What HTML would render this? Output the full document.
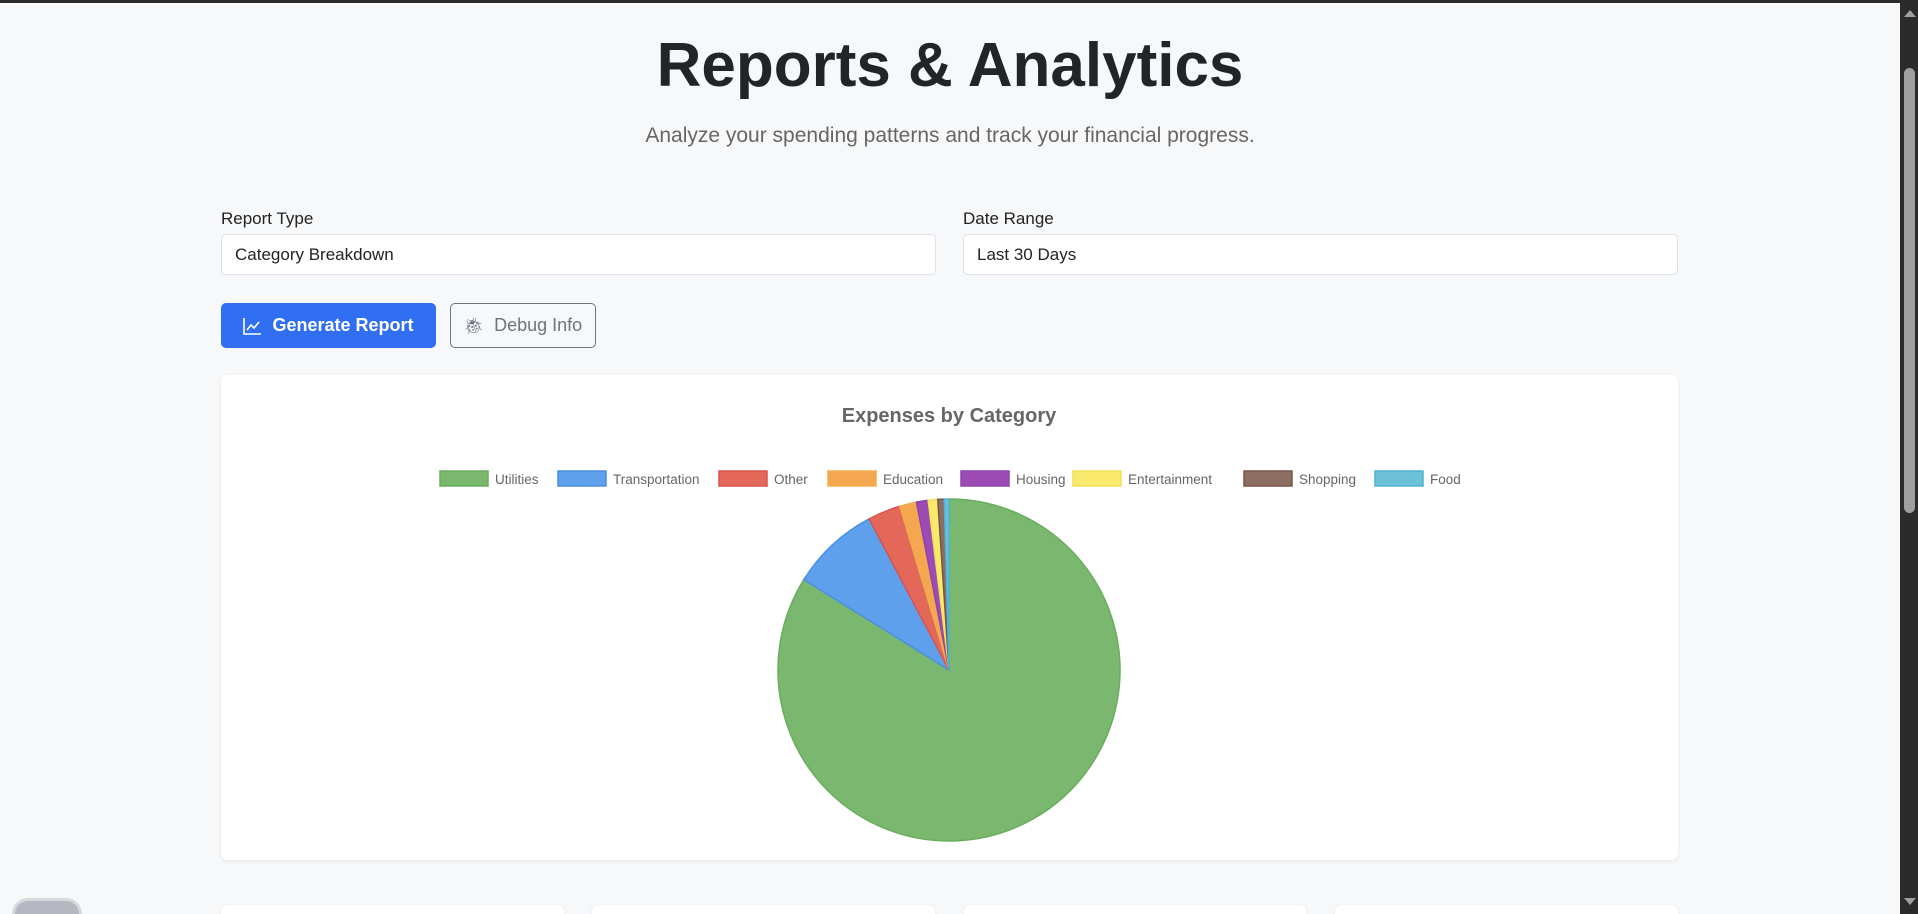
<!DOCTYPE html>
<html><head><meta charset="utf-8"><style>
*{box-sizing:border-box;margin:0;padding:0}
html,body{width:1918px;height:914px;overflow:hidden}
body{background:#f7f8fa;font-family:"Liberation Sans",sans-serif;position:relative;color:#212529}
.topbar{position:absolute;left:0;top:0;width:1918px;height:3px;background:#2b2b2b}
.sb{position:absolute;right:0;top:0;width:18px;height:914px;background:#2b2b2b}
.thumb{position:absolute;left:4px;top:68px;width:11px;height:445px;border-radius:6px;background:#9f9f9f}
h1{position:absolute;left:0;width:1900px;text-align:center;top:30px;font-size:62px;font-weight:bold;color:#212529}
.sub{position:absolute;left:0;width:1900px;text-align:center;top:124px;font-size:21px;color:#666;font-weight:300}
.lbl{position:absolute;top:209px;font-size:17px;color:#222}
.sel{position:absolute;top:234px;height:41px;width:715px;background:#fff;border:1px solid #dee2e6;border-radius:5px;font-size:17px;padding:10px 13px;color:#222}
.btn{position:absolute;top:303px;height:45px;border-radius:5px;font-size:18px;display:flex;align-items:center;justify-content:center;gap:10px}
.card{position:absolute;background:#fff;border-radius:7px;box-shadow:0 1px 4px rgba(0,0,0,.08)}
</style></head><body>
<div class="topbar"></div>
<h1>Reports &amp; Analytics</h1>
<div class="sub">Analyze your spending patterns and track your financial progress.</div>
<div class="lbl" style="left:221px">Report Type</div>
<div class="sel" style="left:221px">Category Breakdown</div>
<div class="lbl" style="left:963px">Date Range</div>
<div class="sel" style="left:963px">Last 30 Days</div>
<div class="btn" style="left:221px;width:215px;background:#316ff2;color:#fff;font-weight:bold"><svg width="19" height="18" viewBox="0 0 19 18"><path d="M1 1V17H18" stroke="#fff" stroke-width="1.6" fill="none"/><path d="M4 13L8 8L11 11L16 5" stroke="#fff" stroke-width="1.6" fill="none"/></svg>Generate Report</div>
<div class="btn" style="left:450px;width:146px;border:1px solid #6c757d;color:#6c757d;background:transparent"><span style="font-size:16px">🐞︎</span>Debug Info</div>
<div class="card" style="left:221px;top:375px;width:1457px;height:485px">
<svg id="chart" width="1457" height="485"></svg>
</div>
<div class="card" style="left:221px;top:905px;width:343px;height:9px;border-radius:7px 7px 0 0"></div>
<div class="card" style="left:592px;top:905px;width:343px;height:9px;border-radius:7px 7px 0 0"></div>
<div class="card" style="left:964px;top:905px;width:342px;height:9px;border-radius:7px 7px 0 0"></div>
<div class="card" style="left:1335px;top:905px;width:343px;height:9px;border-radius:7px 7px 0 0"></div>
<div style="position:absolute;left:12px;top:898px;width:70px;height:16px;border-radius:20px 20px 0 0;background:#b5b8c0;border:3px solid #d6d8dc;border-bottom:none"></div>
<div class="sb"><div style="position:absolute;left:4px;top:10px;width:0;height:0;border-left:6px solid transparent;border-right:6px solid transparent;border-bottom:7px solid #9f9f9f"></div><div class="thumb"></div><div style="position:absolute;left:4px;top:898px;width:0;height:0;border-left:6px solid transparent;border-right:6px solid transparent;border-top:7px solid #9f9f9f"></div></div>
<script>
const categories=["Utilities","Transportation","Other","Education","Housing","Entertainment","Shopping","Food"];
const values=[83.9,8.4,3.1,1.6,1.1,0.9,0.6,0.45];
const fills=["#7bb86f","#5fa0ec","#e4685a","#f4a74e","#9b4bb3","#f9ea6e","#8d6e63","#6cc0d8"];
const strokes=["#6aad5e","#4a90e2","#d9534f","#f0ad4e","#8e44ad","#f1e05a","#795548","#4fb3d1"];
const NS="http://www.w3.org/2000/svg";
const svg=document.getElementById('chart');
function mk(t,a){const e=document.createElementNS(NS,t);for(const k in a)e.setAttribute(k,a[k]);svg.appendChild(e);return e;}
const title=mk('text',{x:728,y:47,'text-anchor':'middle','font-size':20,'font-weight':'bold',fill:'#666','font-family':'Liberation Sans, sans-serif'});
title.textContent='Expenses by Category';


const lx=[219,337,498,607,740,852,1023,1154];
categories.forEach((c,i)=>{
 const r=mk('rect',{x:lx[i],y:96,width:48,height:15,fill:fills[i],stroke:strokes[i],'stroke-width':1.5});
 
 
 const t=mk('text',{x:lx[i]+55,y:109,'font-size':13.5,fill:'#666','font-family':'Liberation Sans, sans-serif'});
 t.textContent=c;
 
 
});
const cx=728,cy=295,R=171;
const total=values.reduce((a,b)=>a+b,0);
let a0=-Math.PI/2;
values.forEach((v,i)=>{
 const a1=a0+v/total*2*Math.PI;
 const large=(a1-a0)>Math.PI?1:0;
 const d=`M${cx},${cy}L${cx+R*Math.cos(a0)},${cy+R*Math.sin(a0)}A${R},${R} 0 ${large} 1 ${cx+R*Math.cos(a1)},${cy+R*Math.sin(a1)}Z`;
 const p=mk('path',{d:d,fill:fills[i],stroke:strokes[i],'stroke-width':1.5});
 
 
 a0=a1;
});
</script>
</body></html>
